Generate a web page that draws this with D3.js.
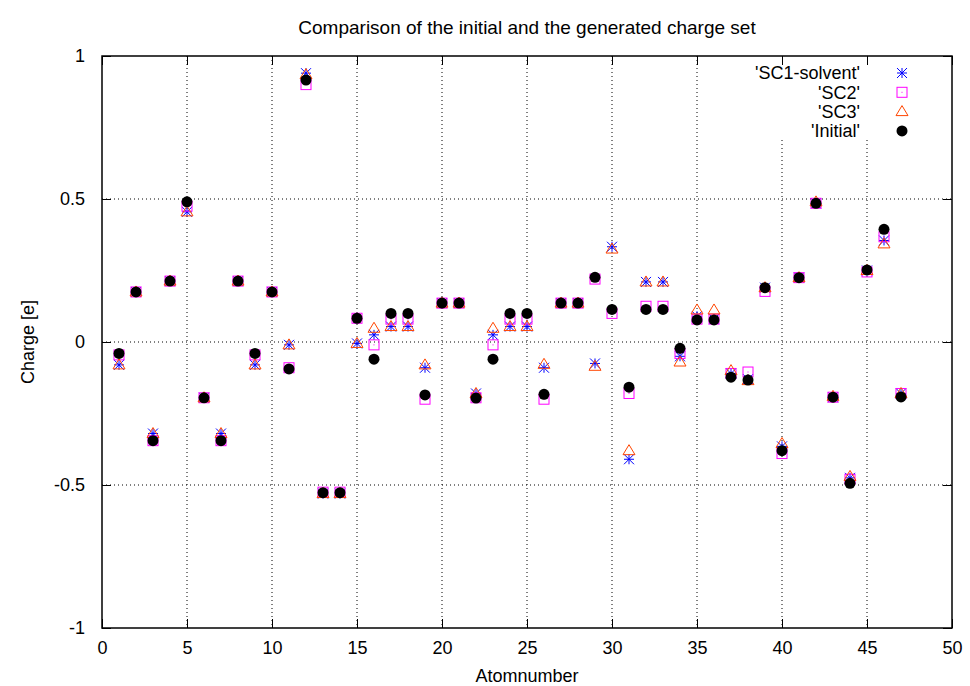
<!DOCTYPE html>
<html>
<head>
<meta charset="utf-8">
<script src="https://cdn.jsdelivr.net/npm/d3@7"></script>
<style>
  body { margin: 0; background: #fff; }
  text { font-family: "Liberation Sans", Arial, sans-serif; font-size: 18px; fill: #000; }
</style>
</head>
<body>
<svg width="970" height="686"></svg>
<script>
const atoms = d3.range(1, 48);

const sc1 = [-0.08, 0.175, -0.32, 0.213, 0.455, -0.195, -0.32, 0.213, -0.08, 0.175,
  -0.01, 0.94, -0.53, -0.53, -0.005, 0.025, 0.054, 0.054, -0.09, 0.136,
  0.136, -0.18, 0.025, 0.054, 0.054, -0.09, 0.136, 0.136, -0.075, 0.333,
  -0.41, 0.21, 0.21, -0.05, 0.09, 0.08, -0.11, -0.13, 0.19, -0.365,
  0.225, 0.485, -0.193, -0.475, 0.25, 0.355, -0.18];
const sc2 = [-0.045, 0.175, -0.345, 0.213, 0.475, -0.195, -0.345, 0.213, -0.045, 0.175,
  -0.09, 0.90, -0.525, -0.525, 0.083, -0.01, 0.08, 0.08, -0.2, 0.136,
  0.136, -0.195, -0.01, 0.08, 0.08, -0.2, 0.136, 0.136, 0.22, 0.10,
  -0.18, 0.125, 0.125, -0.04, 0.08, 0.08, -0.11, -0.105, 0.177, -0.39,
  0.225, 0.485, -0.193, -0.48, 0.245, 0.368, -0.18];
const sc3 = [-0.08, 0.175, -0.32, 0.213, 0.455, -0.195, -0.32, 0.213, -0.08, 0.175,
  -0.01, 0.935, -0.53, -0.53, -0.005, 0.048, 0.054, 0.054, -0.08, 0.136,
  0.136, -0.18, 0.048, 0.054, 0.054, -0.078, 0.136, 0.136, -0.085, 0.325,
  -0.38, 0.21, 0.21, -0.07, 0.112, 0.112, -0.1, -0.135, 0.19, -0.355,
  0.225, 0.49, -0.19, -0.47, 0.25, 0.343, -0.18];
const initial = [-0.04, 0.175, -0.345, 0.213, 0.49, -0.195, -0.345, 0.213, -0.04, 0.175,
  -0.094, 0.916, -0.527, -0.527, 0.083, -0.06, 0.10, 0.10, -0.185, 0.136,
  0.136, -0.196, -0.06, 0.10, 0.10, -0.183, 0.136, 0.136, 0.226, 0.114,
  -0.158, 0.114, 0.114, -0.022, 0.077, 0.077, -0.123, -0.133, 0.19, -0.38,
  0.225, 0.485, -0.193, -0.494, 0.252, 0.394, -0.192];

const xTicks = d3.range(0, 51, 5);
const yTicks = [-1, -0.5, 0, 0.5, 1];

const series = [
  {name: "'SC1-solvent'", values: sc1, color: '#0000ff', shape: 'star'},
  {name: "'SC2'", values: sc2, color: '#ff00ff', shape: 'square'},
  {name: "'SC3'", values: sc3, color: '#ff4500', shape: 'triangle'},
  {name: "'Initial'", values: initial, color: '#000000', shape: 'circle'}
];

const svg = d3.select('svg');
const marg = {top: 56, right: 18, bottom: 58, left: 102};
const W = 970 - marg.left - marg.right;
const H = 686 - marg.top - marg.bottom;

const x = d3.scaleLinear().domain([0, 50]).range([0, W]);
const y = d3.scaleLinear().domain([-1, 1]).range([H, 0]);

const g = svg.append('g').attr('transform', `translate(${marg.left},${marg.top})`);

// grid (the legend area hides the top of the grid lines behind it)
const legendBottom = 84;
const legendLeft = 650;
xTicks.filter(t => t > 0 && t < 50).forEach(t => {
  const top = x(t) > legendLeft ? legendBottom : 0;
  g.append('line').attr('x1', x(t)).attr('x2', x(t)).attr('y1', top).attr('y2', H)
    .attr('stroke', '#000').attr('stroke-width', 1).attr('stroke-dasharray', '1,3');
});
yTicks.filter(t => t > -1 && t < 1).forEach(t => {
  g.append('line').attr('x1', 0).attr('x2', W).attr('y1', y(t)).attr('y2', y(t))
    .attr('stroke', '#000').attr('stroke-width', 1).attr('stroke-dasharray', '1,3');
});

// axes with mirrored inward ticks
const xAxis = g.append('g').attr('transform', `translate(0,${H})`)
  .call(d3.axisBottom(x).tickValues(xTicks).tickFormat(d => String(d)).tickSize(-9).tickPadding(13));
const xTop = g.append('g')
  .call(d3.axisTop(x).tickValues(xTicks).tickFormat('').tickSize(-9));
const yAxis = g.append('g')
  .call(d3.axisLeft(y).tickValues(yTicks).tickFormat(d => String(d)).tickSize(-9).tickPadding(17));
const yRight = g.append('g').attr('transform', `translate(${W},0)`)
  .call(d3.axisRight(y).tickValues(yTicks).tickFormat('').tickSize(-9));

[xAxis, xTop, yAxis, yRight].forEach(a => {
  a.select('.domain').remove();
  a.selectAll('.tick line').attr('stroke', '#000').attr('stroke-width', 1);
  a.selectAll('text').style('font-family', '"Liberation Sans", Arial, sans-serif').style('font-size', '18px');
});

g.append('rect').attr('width', W).attr('height', H)
  .attr('fill', 'none').attr('stroke', '#000').attr('stroke-width', 1.5);

const drawMarker = (sel, s, cx, cy) => {
  const r = 5;
  if (s.shape === 'star') {
    const p = sel.append('g').attr('transform', `translate(${cx},${cy})`)
      .attr('stroke', s.color).attr('stroke-width', 1);
    p.append('line').attr('x1', -r).attr('x2', r).attr('y1', 0).attr('y2', 0);
    p.append('line').attr('x1', 0).attr('x2', 0).attr('y1', -r).attr('y2', r);
    p.append('line').attr('x1', -r).attr('x2', r).attr('y1', -r).attr('y2', r);
    p.append('line').attr('x1', -r).attr('x2', r).attr('y1', r).attr('y2', -r);
  } else if (s.shape === 'square') {
    sel.append('rect').attr('x', cx - r).attr('y', cy - r).attr('width', 2 * r).attr('height', 2 * r)
      .attr('fill', 'none').attr('stroke', s.color).attr('stroke-width', 1);
    sel.append('rect').attr('x', cx - 0.5).attr('y', cy - 0.5).attr('width', 1).attr('height', 1)
      .attr('fill', s.color);
  } else if (s.shape === 'triangle') {
    sel.append('path').attr('d', `M${cx},${cy - 6}L${cx + 6},${cy + 4}L${cx - 6},${cy + 4}Z`)
      .attr('fill', 'none').attr('stroke', s.color).attr('stroke-width', 1);
  } else {
    sel.append('circle').attr('cx', cx).attr('cy', cy).attr('r', 5.5).attr('fill', s.color);
  }
};

series.forEach(s => {
  const layer = g.append('g');
  s.values.forEach((v, i) => drawMarker(layer, s, x(atoms[i]), y(v)));
});

// legend
series.forEach((s, i) => {
  const ly = 17 + i * 19.3;
  g.append('text').attr('x', 758).attr('y', ly).attr('dy', '0.35em')
    .attr('text-anchor', 'end').text(s.name);
  drawMarker(g.append('g'), s, 800, ly);
});

svg.append('text').attr('x', marg.left + W / 2).attr('y', 34)
  .attr('text-anchor', 'middle').style('font-size', '19px')
  .text('Comparison of the initial and the generated charge set');
svg.append('text').attr('x', marg.left + W / 2).attr('y', 682)
  .attr('text-anchor', 'middle').text('Atomnumber');
svg.append('text').attr('transform', `translate(34,${marg.top + H / 2}) rotate(-90)`)
  .attr('text-anchor', 'middle').text('Charge [e]');
</script>
</body>
</html>
